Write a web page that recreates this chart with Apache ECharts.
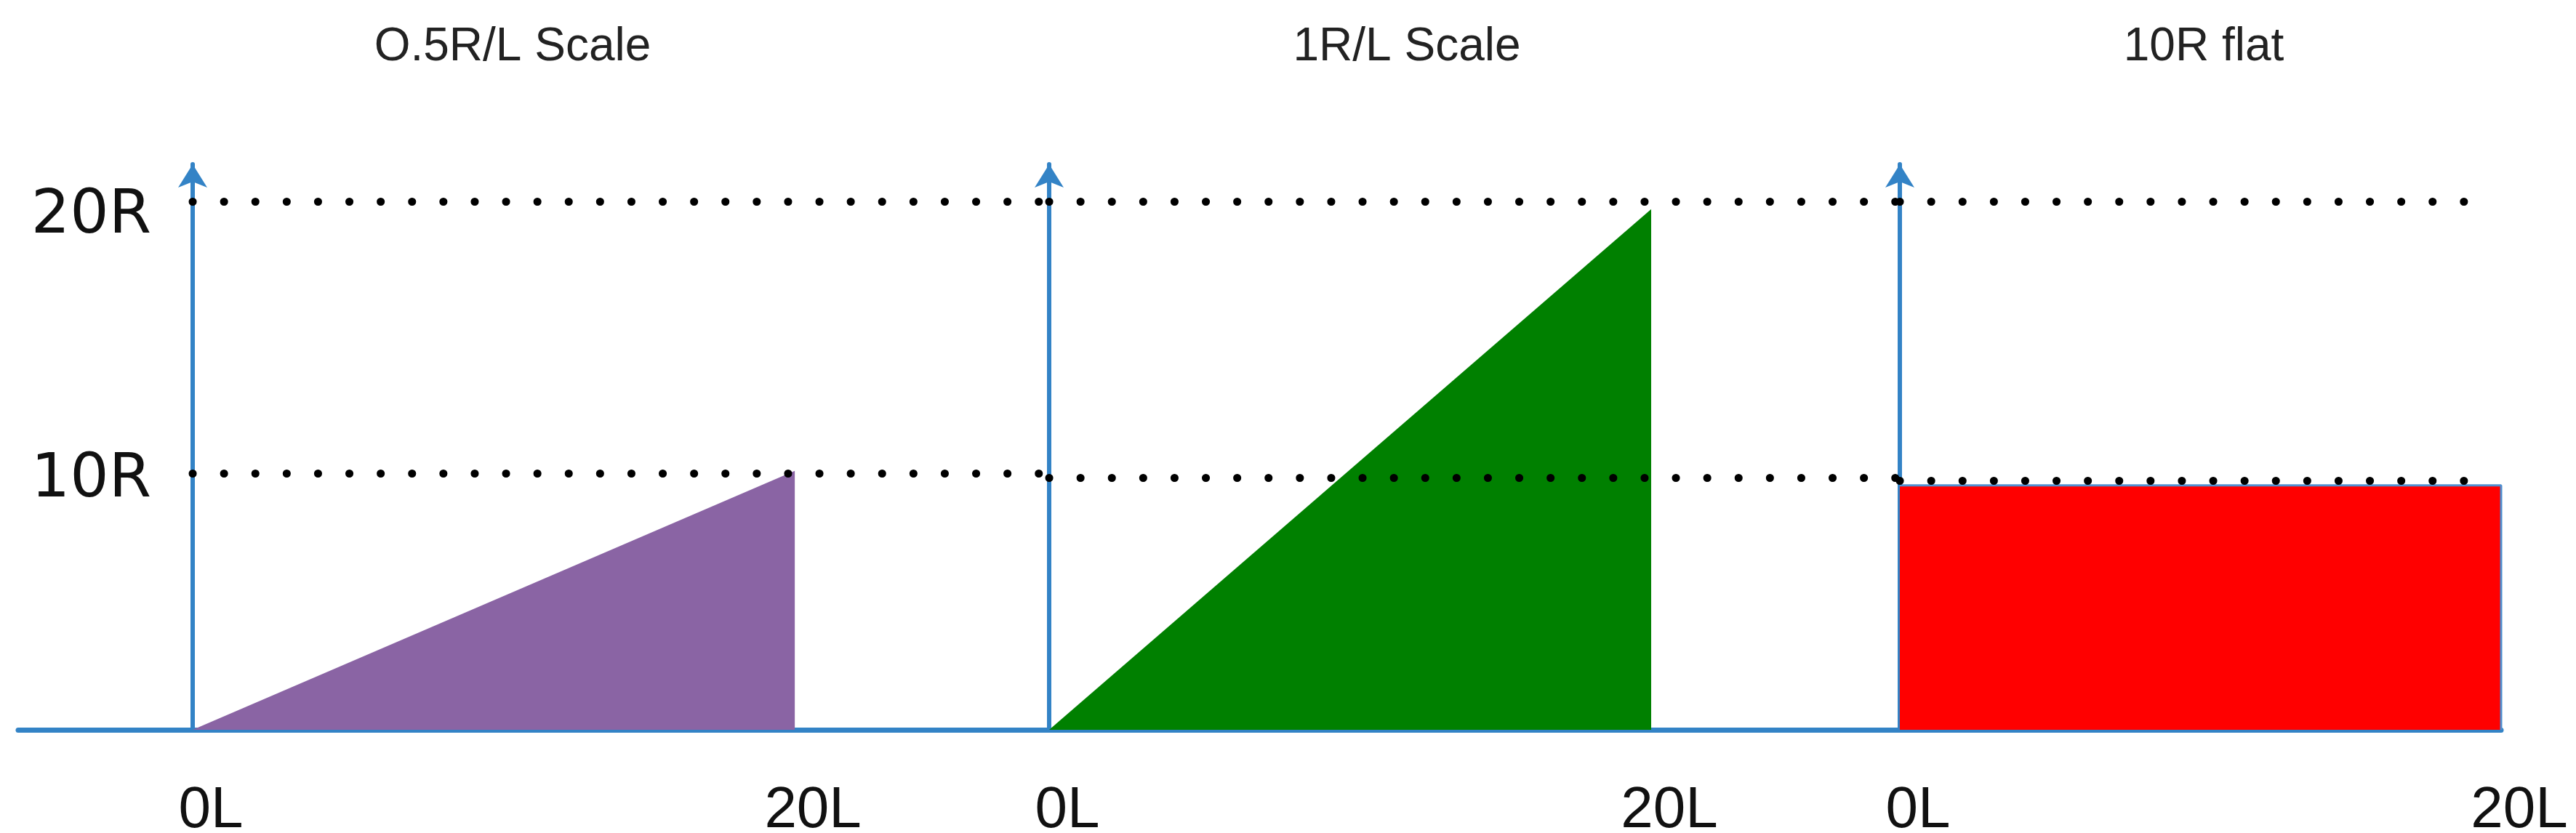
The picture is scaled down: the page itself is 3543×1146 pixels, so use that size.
<!DOCTYPE html>
<html>
<head>
<meta charset="utf-8">
<script src="https://cdn.jsdelivr.net/npm/echarts@6/dist/echarts.min.js"></script>
<style>
  html, body { margin: 0; padding: 0; background: #fff; }
  #chart { width: 3543px; height: 1146px; }
</style>
</head>
<body>
<div id="chart"></div>
<script>
// panel titles
var titles = ["O.5R/L Scale", "1R/L Scale", "10R flat"];
// x ticks (L) and y ticks (R)
var xTicks = [0, 20];
var xTickLabels = ["0L", "20L"];
var yTicks = [10, 20];
var yTickLabels = ["10R", "20R"];
// shapes, [L, R]
var purpleRamp = [[0, 0], [20, 9.8]];
var greenRamp = [[0, 0], [20, 19.7]];
var redFlat = [[0, 9.25], [20, 9.25], [20, 0]];
// dotted guide levels per panel (upper, lower) and their extent in L
var upperGuide = [20, 20, 20];
var lowerGuide = [9.7, 9.55, 9.42];
var guideEnd = [28.45, 28.26, 19.3];

var axisBlue = "#3383c6";
var chart = echarts.init(document.getElementById("chart"), null, { renderer: "canvas" });

// three panels + a short stub for the baseline left of panel 1
var grids = [
  { left: 265, right: 2100, top: 226, bottom: 142 },
  { left: 1443, right: 930, top: 226, bottom: 142 },
  { left: 2613, right: 103, top: 226, bottom: 142 },
  { left: 25, right: 3278, top: 226, bottom: 142 }
].map(function (g) { g.outerBoundsMode = "none"; g.containLabel = false; return g; });
var xRanges = [[0, 28.45], [0, 28.26], [0, 20]];
var titleX = [700, 1930, 3026];

function xAxisFor(i) {
  return {
    type: "value", gridIndex: i, min: xRanges[i][0], max: xRanges[i][1],
    axisLine: { show: true, onZero: false, lineStyle: { color: axisBlue, width: 7 } },
    axisTick: { show: false },
    splitLine: { show: false },
    axisLabel: {
      customValues: xTicks,
      formatter: function (v) { return xTickLabels[xTicks.indexOf(v)]; },
      fontFamily: "Liberation Sans", fontSize: 80, color: "#111",
      margin: 72, padding: [0, 0, 0, 50]
    }
  };
}

function yAxisFor(i) {
  return {
    type: "value", gridIndex: i, min: 0, max: 21.4,
    axisLine: {
      show: true,
      symbol: ["none", "arrow"], symbolSize: [30, 32],
      lineStyle: { color: axisBlue, width: 6 }
    },
    axisTick: { show: false },
    splitLine: { show: false },
    axisLabel: i === 0 ? {
      customValues: yTicks,
      formatter: function (v) { return yTickLabels[yTicks.indexOf(v)]; },
      fontFamily: "DejaVu Sans", fontSize: 84, color: "#111",
      margin: 57, verticalAlign: "top", lineHeight: 42
    } : { show: false }
  };
}

function guideSeries(i) {
  var dot = { color: "#000", width: 11, type: [0.1, 43], cap: "round" };
  return {
    type: "line", xAxisIndex: i, yAxisIndex: i, data: [], z: 1,
    markLine: {
      silent: true, symbol: "none", animation: false,
      label: { show: false },
      lineStyle: dot,
      data: [
        [{ coord: [0, upperGuide[i]] }, { coord: [guideEnd[i], upperGuide[i]] }],
        [{ coord: [0, lowerGuide[i]] }, { coord: [guideEnd[i], lowerGuide[i]] }]
      ]
    }
  };
}

function shapeSeries(i, data, fill, edge, edgeWidth) {
  return {
    type: "line", xAxisIndex: i, yAxisIndex: i, data: data, z: 3,
    symbol: "none", animation: false,
    lineStyle: { color: edge, width: edgeWidth },
    areaStyle: { color: fill, opacity: 1 }
  };
}

var xAxes = [0, 1, 2].map(xAxisFor);
xAxes.push({
  type: "value", gridIndex: 3, min: 0, max: 1,
  axisLine: { show: true, onZero: false, lineStyle: { color: axisBlue, width: 7 } },
  axisTick: { show: false }, axisLabel: { show: false }, splitLine: { show: false }
});
var yAxes = [0, 1, 2].map(yAxisFor);
yAxes.push({
  type: "value", gridIndex: 3, min: 0, max: 1, show: false
});

var option = {
  backgroundColor: "#fff",
  animation: false,
  title: titles.map(function (t, i) {
    return {
      text: t, left: titleX[i], top: 28, textAlign: "center",
      textStyle: { fontFamily: "Liberation Sans", fontSize: 64, fontWeight: "normal", color: "#222" }
    };
  }),
  grid: grids,
  xAxis: xAxes,
  yAxis: yAxes,
  series: [
    guideSeries(0), guideSeries(1), guideSeries(2),
    shapeSeries(0, purpleRamp, "#8a64a4", "#8a64a4", 0),
    shapeSeries(1, greenRamp, "#008000", "#008000", 0),
    shapeSeries(2, redFlat, "#ff0000", "#4f8fd0", 3)
  ]
};
chart.setOption(option);
</script>
</body>
</html>
